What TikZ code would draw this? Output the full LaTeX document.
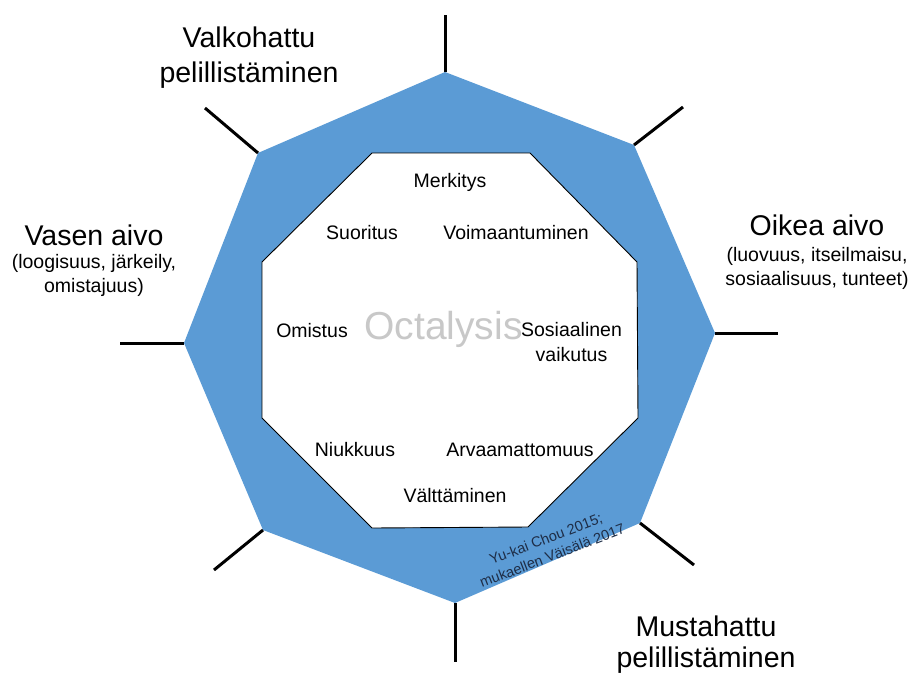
\documentclass[tikz,border=0pt]{standalone}
\usepackage{fontspec}
\setmainfont{Liberation Sans}
\usetikzlibrary{positioning}
\definecolor{octablue}{RGB}{91,155,213}
\definecolor{octagray}{RGB}{200,200,200}
\definecolor{citenavy}{RGB}{30,45,70}

\begin{document}
\begin{tikzpicture}[x=1pt, y=-1pt,
            every node/.style={inner sep=0pt, align=center},
            spoke/.style={draw, line width=3pt},
            hat/.style={font=\fontsize{28.5}{35}\selectfont},
            brain/.style={font=\fontsize{28.5}{34}\selectfont},
            brainsub/.style={font=\fontsize{19.5}{24}\selectfont},
            drive/.style={font=\fontsize{19.5}{25}\selectfont, anchor=base}]
        \useasboundingbox (0,0) rectangle (912,675);
        \clip (0,0) rectangle (912,675);
        \coordinate (ot) at (445,72);
        \coordinate (our) at (634,145);
        \coordinate (or) at (715,333);
        \coordinate (olr) at (640,523);
        \coordinate (ob) at (455,603);
        \coordinate (oll) at (263,530);
        \coordinate (ol) at (184,343);
        \coordinate (oul) at (258,153);
        \fill[octablue] (ot) -- (our) -- (or) -- (olr) -- (ob) -- (oll) -- (ol) -- (oul) -- cycle;
        \draw[fill=white, line width=0.9pt] (372,153) -- (530,153) -- (637,262) -- (638,418)
                -- (528,527) -- (372,528) -- (262,418) -- (262,262) -- cycle;
        \draw[spoke] (ot) -- (445,15);
        \draw[spoke] (our) -- (683,107);
        \draw[spoke] (or) -- (778,333);
        \draw[spoke] (olr) -- (694,565);
        \draw[spoke] (ob) -- (455,662);
        \draw[spoke] (oll) -- (214,570);
        \draw[spoke] (ol) -- (120,343);
        \draw[spoke] (oul) -- (205,108);
        \node[hat] (white) at (249,58) {Valkohattu\\pelillistäminen};
        \node[hat, font=\fontsize{28.5}{31}\selectfont] (black) at (706,645) {Mustahattu\\pelillistäminen};
        \node[brain] (leftbrain) at (94,235) {Vasen aivo};
        \node[brainsub, below=8.6pt of leftbrain] (leftsub) {(loogisuus, järkeily,\\omistajuus)};
        \node[brain] (rightbrain) at (817,225) {Oikea aivo};
        \node[brainsub, below=11.6pt of rightbrain] (rightsub) {(luovuus, itseilmaisu,\\sosiaalisuus, tunteet)};
        \node[anchor=base, text=octagray, font=\fontsize{39}{45}\selectfont] (octa) at (443.5,339) {Octalysis};
        \node[drive] (merk) at (450,187) {Merkitys};
        \node[drive] (suor) at (362,239) {Suoritus};
        \node[drive] (voim) at (516,239) {Voimaantuminen};
        \node[drive] (omis) at (312,337) {Omistus};
        \node[drive, anchor=center] (sosi) at (571.5,342.4) {Sosiaalinen\\vaikutus};
        \node[drive] (niuk) at (355,456.7) {Niukkuus};
        \node[drive] (arva) at (520,456.7) {Arvaamattomuus};
        \node[drive] (valt) at (455,502.7) {Välttäminen};
        \node[rotate=21, text=citenavy, font=\fontsize{14.5}{18}\selectfont] (cite) at (549,547)
                {Yu-kai Chou 2015;\\mukaellen Väisälä 2017};
\end{tikzpicture}
\end{document}
